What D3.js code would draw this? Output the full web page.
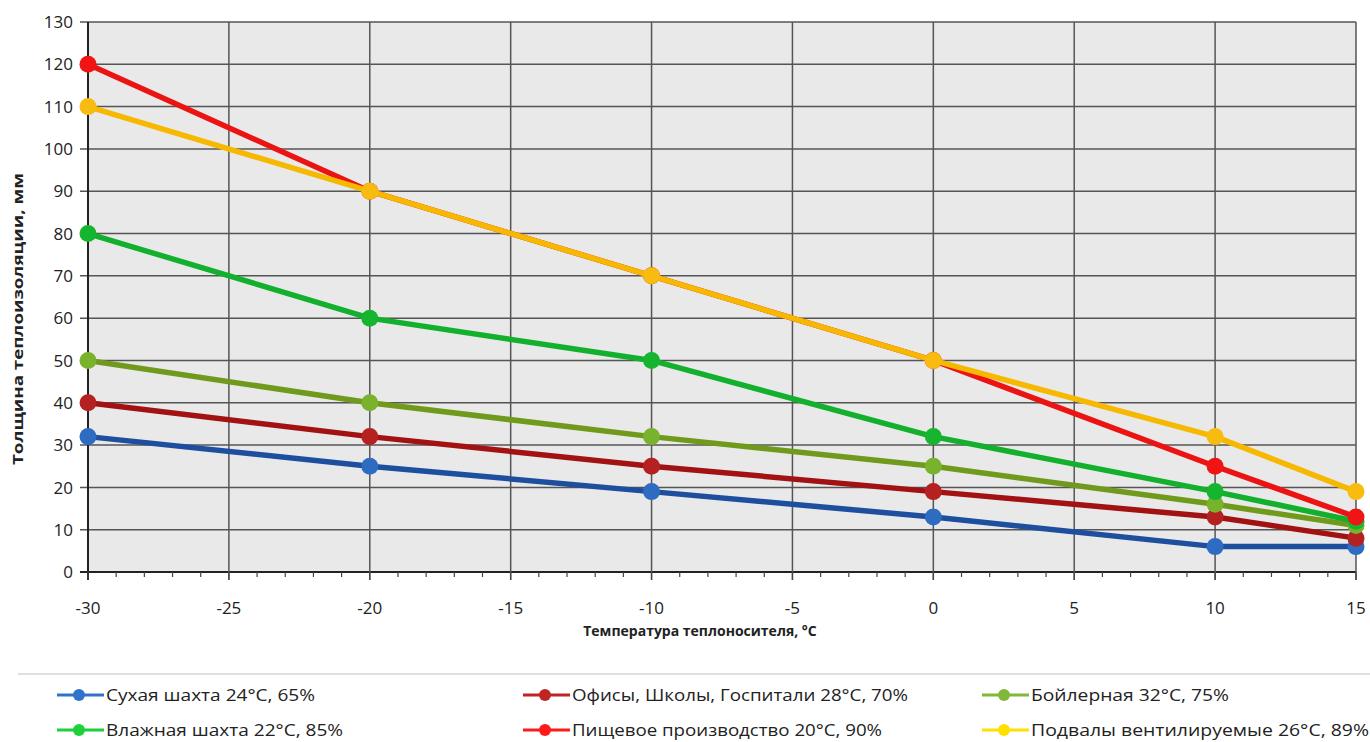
<!DOCTYPE html>
<html><head><meta charset="utf-8">
<script src="https://cdn.jsdelivr.net/npm/d3@7"></script>
<style>body{margin:0;background:#fff;} text{font-family:"Open Sans","DejaVu Sans",sans-serif;}</style>
</head><body>
<svg id="c" width="1370" height="742"></svg>
<script>
const temps = [-30, -20, -10, 0, 10, 15];
const seriesNames = ["Сухая шахта 24°C, 65%","Офисы, Школы, Госпитали 28°C, 70%","Бойлерная 32°C, 75%","Влажная шахта 22°C, 85%","Пищевое производство 20°C, 90%","Подвалы вентилируемые 26°C, 89%"];
const dryShaft = [32, 25, 19, 13, 6, 6];
const offices = [40, 32, 25, 19, 13, 8];
const boiler = [50, 40, 32, 25, 16, 11];
const wetShaft = [80, 60, 50, 32, 19, 12];
const food = [120, 90, 70, 50, 25, 13];
const basements = [110, 90, 70, 50, 32, 19];
const xTicks = [-30,-25,-20,-15,-10,-5,0,5,10,15];
const yTicks = [0,10,20,30,40,50,60,70,80,90,100,110,120,130];
const lineColors = ["#1d4f9e","#a31212","#6f9a1c","#12b02c","#ec1313","#f6b800"];
const markColors = ["#2d6cc0","#b52020","#79b22c","#16b52f","#f01414","#f8bb10"];
const legendColors = ["#2f73cc","#c02525","#80b83a","#1ed03a","#ff1a1a","#ffe000"];
const allSeries = [dryShaft, offices, boiler, wetShaft, food, basements];

const svg = d3.select("#c");
const x = d3.scaleLinear().domain([-30,15]).range([88,1356]);
const y = d3.scaleLinear().domain([0,130]).range([572,22]);

// plot background
svg.append("rect").attr("x",88).attr("y",22).attr("width",1356-88).attr("height",572-22).attr("fill","#e9e9e9");
// grid
svg.append("g").selectAll("line").data(yTicks).join("line")
  .attr("x1",80).attr("x2",1356).attr("y1",d=>y(d)).attr("y2",d=>y(d))
  .attr("stroke",d=>d===0?"#222":"#555").attr("stroke-width",d=>d===0?2:1.5);
svg.append("g").selectAll("line").data(xTicks).join("line")
  .attr("x1",d=>x(d)).attr("x2",d=>x(d)).attr("y1",22).attr("y2",580)
  .attr("stroke",d=>d===-30?"#222":"#555").attr("stroke-width",d=>d===-30?2:1.5);
// minor ticks
svg.append("g").selectAll("line").data(d3.range(-30,16,1)).join("line")
  .attr("x1",d=>x(d)).attr("x2",d=>x(d)).attr("y1",572).attr("y2",d=>d%5===0?580:577)
  .attr("stroke","#444").attr("stroke-width",1.2);

// axes labels
svg.append("g").selectAll("text").data(yTicks).join("text")
  .attr("x",73).attr("y",d=>y(d)).attr("dy","0.36em").attr("text-anchor","end")
  .attr("font-size",17).attr("fill","#222").text(d=>d);
svg.append("g").selectAll("text").data(xTicks).join("text")
  .attr("x",d=>x(d)).attr("y",614).attr("text-anchor","middle")
  .attr("font-size",17).attr("fill","#222").text(d=>d);
svg.append("text").attr("x",700).attr("y",636).attr("text-anchor","middle")
  .attr("font-size",14).attr("font-weight","bold").attr("fill","#222").text("Температура теплоносителя, °C");
svg.append("text").attr("transform","translate(23,319) rotate(-90)").attr("text-anchor","middle")
  .attr("font-size",14).attr("font-weight","bold").attr("fill","#222")
  .attr("textLength",292).attr("lengthAdjust","spacingAndGlyphs").text("Толщина теплоизоляции, мм");

// lines
const line = d3.line().x((d,i)=>x(temps[i])).y(d=>y(d));
allSeries.forEach((s,k)=>{
  svg.append("path").attr("d",line(s)).attr("fill","none").attr("stroke",lineColors[k])
    .attr("stroke-width",5.5).attr("stroke-linejoin","round");
  svg.append("g").selectAll("circle").data(s).join("circle")
    .attr("cx",(d,i)=>x(temps[i])).attr("cy",d=>y(d)).attr("r",8.5).attr("fill",markColors[k]);
});

// legend
svg.append("line").attr("x1",18).attr("x2",1370).attr("y1",674).attr("y2",674).attr("stroke","#e0e0e0").attr("stroke-width",2);
const legX = [57,523,982], legY = [695,730];
const legW = [209,336,198,237,310,338];
seriesNames.forEach((n,k)=>{
  const gx = legX[k%3], gy = legY[Math.floor(k/3)];
  const g = svg.append("g");
  g.append("line").attr("x1",gx).attr("x2",gx+47).attr("y1",gy).attr("y2",gy).attr("stroke",legendColors[k]).attr("stroke-width",3);
  g.append("circle").attr("cx",gx+22).attr("cy",gy).attr("r",6).attr("fill",legendColors[k]);
  g.append("text").attr("x",gx+49).attr("y",gy).attr("dy","0.35em").attr("font-size",16).attr("fill","#222")
    .attr("textLength",legW[k]).attr("lengthAdjust","spacingAndGlyphs").text(n);
});
</script>
</body></html>
